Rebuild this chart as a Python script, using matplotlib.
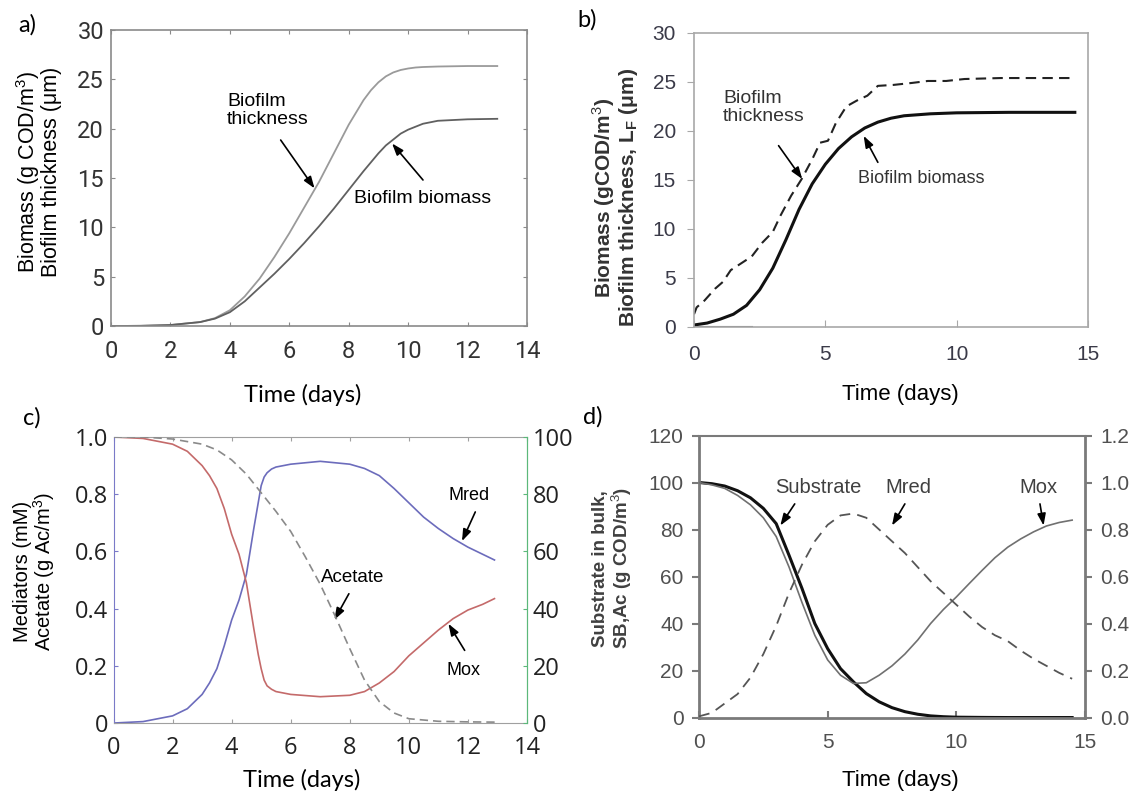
# four-panel biofilm / mediator model comparison

import matplotlib
matplotlib.use("Agg")
import matplotlib.pyplot as plt


# Data

# a) model biofilm growth
a_t = [0, 1, 2, 3, 3.5, 4, 4.5, 5, 5.5, 6, 6.5, 7, 7.5, 8, 8.5, 8.75, 9, 9.25, 9.5, 9.75,
       10, 10.25, 10.5, 11, 12, 13]
a_thick = [0, 0.02, 0.1, 0.4, 0.8, 1.6, 3.0, 4.8, 7.0, 9.4, 12.0, 14.6, 17.5, 20.4, 22.9,
           23.9, 24.7, 25.3, 25.7, 25.95, 26.1, 26.2, 26.25, 26.3, 26.35, 26.35]
a_bio = [0, 0.02, 0.1, 0.4, 0.75, 1.4, 2.5, 3.9, 5.3, 6.8, 8.4, 10.1, 11.9, 13.8, 15.7,
         16.6, 17.5, 18.3, 18.9, 19.5, 19.9, 20.2, 20.5, 20.8, 20.95, 21.0]

# b) reference biofilm growth
b_t = [0, 0.5, 1, 1.5, 2, 2.5, 3, 3.5, 4, 4.5, 5, 5.5, 6, 6.5, 7, 7.5, 8, 9, 10, 12, 14.5]
b_bio = [0.2, 0.4, 0.8, 1.3, 2.2, 3.8, 6.0, 8.9, 12.0, 14.6, 16.6, 18.2, 19.4, 20.3, 20.9,
         21.3, 21.55, 21.75, 21.85, 21.9, 21.9]
b_thk_t = [0, 0.1, 0.4, 0.8, 1.1, 1.4, 1.8, 2.2, 2.6, 3.0, 3.3, 3.7, 4.1, 4.5, 4.8, 5.1,
           5.4, 5.8, 6.2, 6.6, 7.0, 7.6, 8.3, 8.9, 9.6, 10.3, 11.7, 14.5]
b_thk = [1.3, 2.0, 2.7, 3.9, 4.6, 5.8, 6.5, 7.2, 8.6, 9.7, 11.4, 13.4, 15.1, 17.1, 18.8,
         19.0, 20.8, 22.5, 23.1, 23.6, 24.6, 24.7, 24.9, 25.1, 25.1, 25.3, 25.4, 25.4]
b_base_t = [0, 2.2]
b_base = [0, 0]

# c) model mediators and acetate
c_mred_t = [0, 0.02, 1, 2, 2.5, 3, 3.25, 3.5, 3.75, 4, 4.25, 4.5, 4.75, 5.0, 5.1, 5.2,
            5.35, 5.5, 6, 7, 8, 8.5, 9, 9.5, 10, 10.5, 11, 11.5, 12, 12.5, 12.9]
c_mred = [1.0, 0.0, 0.005, 0.025, 0.05, 0.1, 0.14, 0.19, 0.27, 0.36, 0.43, 0.52, 0.68,
          0.83, 0.86, 0.875, 0.888, 0.895, 0.905, 0.915, 0.905, 0.89, 0.865, 0.82, 0.77,
          0.72, 0.68, 0.645, 0.615, 0.59, 0.57]
c_mox_t = [0, 1, 2, 2.5, 3, 3.25, 3.5, 3.75, 4, 4.25, 4.5, 4.75, 4.9, 5.0, 5.1, 5.2, 5.35,
           5.5, 6, 7, 8, 8.5, 9, 9.5, 10, 10.5, 11, 11.5, 12, 12.5, 12.9]
c_mox = [1.0, 0.995, 0.975, 0.95, 0.9, 0.865, 0.82, 0.75, 0.66, 0.59, 0.49, 0.33, 0.24,
         0.19, 0.15, 0.13, 0.118, 0.11, 0.1, 0.092, 0.097, 0.11, 0.14, 0.18, 0.235, 0.28,
         0.325, 0.365, 0.395, 0.415, 0.435]
c_ace_t = [0, 1, 2, 3, 3.5, 4, 4.5, 5, 5.5, 6, 6.5, 7, 7.5, 8, 8.5, 9, 9.5, 10, 11, 12, 13]
c_ace = [100, 100, 99.3, 97.5, 95.5, 92, 87, 80.5, 74, 67, 58, 48.5, 37.5, 26, 15, 7.5,
         3.5, 1.5, 0.6, 0.4, 0.3]

# d) reference substrate and mediators
d_t = [0, 0.5, 1, 1.5, 2, 2.5, 3, 3.5, 4, 4.5, 5, 5.5, 6, 6.5, 7, 7.5, 8, 8.5, 9, 9.5,
       10, 10.5, 11, 11.5, 12, 12.5, 13, 13.5, 14, 14.5]
d_sub = [100, 99.5, 98.5, 96.5, 93.5, 89, 82.5, 69, 55, 40, 29.3, 20.8, 15.2, 10.2, 6.7,
         4.2, 2.5, 1.4, 0.7, 0.35, 0.15, 0.1, 0.05, 0.02, 0, 0, 0, 0, 0, 0]
d_mox = [1.0, 0.99, 0.975, 0.945, 0.905, 0.85, 0.77, 0.64, 0.49, 0.35, 0.245, 0.18, 0.145,
         0.148, 0.18, 0.22, 0.27, 0.33, 0.40, 0.46, 0.513, 0.57, 0.626, 0.68, 0.725, 0.76,
         0.79, 0.815, 0.83, 0.84]
d_mred = [0.005, 0.02, 0.06, 0.10, 0.17, 0.27, 0.39, 0.53, 0.65, 0.75, 0.82, 0.86, 0.868,
          0.85, 0.80, 0.75, 0.70, 0.64, 0.58, 0.53, 0.48, 0.43, 0.385, 0.35, 0.325, 0.285,
          0.25, 0.22, 0.19, 0.165]


# Fonts

ARIAL = ["Liberation Sans", "DejaVu Sans"]
NARROW = ["Roboto", "DejaVu Sans"]
CALIBRI = ["Lato", "DejaVu Sans"]
OPEN = ["Open Sans", "DejaVu Sans"]

plt.rcParams["font.family"] = ARIAL
plt.rcParams["mathtext.fontset"] = "custom"
plt.rcParams["mathtext.rm"] = "Liberation Sans"
plt.rcParams["mathtext.bf"] = "Liberation Sans:bold"

fig = plt.figure(figsize=(11.34, 7.94), dpi=100)

ARROW = dict(arrowstyle="-|>,head_length=0.7,head_width=0.25", color="black", lw=1.2,
             shrinkA=0, shrinkB=0)


def arrow(ax, tail, head):
    ax.annotate("", xy=head, xytext=tail, arrowprops=ARROW)


# a)

ax = fig.add_axes([0.0979, 0.5894, 0.3668, 0.3728])
ax.plot(a_t, a_thick, color="#9a9a9a", lw=1.3)
ax.plot(a_t, a_bio, color="#606060", lw=1.3)
ax.set_xlim(0, 14)
ax.set_ylim(0, 30)
ax.set_xticks(range(0, 15, 2))
ax.set_yticks(range(0, 31, 5))
for s in ax.spines.values():
    s.set_color("#8a8a8a")
    s.set_linewidth(1.2)
ax.tick_params(direction="in", top=True, right=True, length=3, color="#8a8a8a",
               labelsize=17, labelcolor="#333333")
ax.tick_params(axis="x", pad=10)
ax.tick_params(axis="y", pad=5)
for lab in ax.get_xticklabels() + ax.get_yticklabels():
    lab.set_family(NARROW)
ax.set_xlabel("Time (days)", family=CALIBRI, fontsize=17)
ax.xaxis.set_label_coords(0.46, -0.233)
ax.xaxis.label.set_va("center")
ax.set_ylabel("Biomass (g COD/m$^3$)\nBiofilm thickness (μm)", fontsize=15.5, linespacing=0.95)
ax.yaxis.set_label_coords(-0.175, 0.52)
ax.yaxis.label.set_va("center")
ax.text(3.9, 23.6, "Biofilm\nthickness", fontsize=14, va="top", ha="left", linespacing=1.1)
arrow(ax, (5.71, 18.85), (6.85, 13.95))
ax.text(8.18, 12.94, "Biofilm biomass", fontsize=14, va="center", ha="left")
arrow(ax, (10.5, 14.8), (9.46, 18.5))
fig.text(27 / 1134, 1 - 25 / 794, "a)", family=CALIBRI, fontsize=17, ha="center", va="center")


# b)

ax = fig.add_axes([0.612, 0.5882, 0.3474, 0.3703])
ax.plot(b_base_t, b_base, color="#707070", lw=1.5)
ax.plot(b_thk_t, b_thk, color="#222222", lw=1.5, ls=(0, (5, 3)))
ax.plot(b_t, b_bio, color="#111111", lw=2.2)
ax.set_xlim(0, 15)
ax.set_ylim(0, 30)
ax.set_xticks([0, 5, 10, 15])
ax.set_yticks(range(0, 31, 5))
for s in ax.spines.values():
    s.set_color("#a8a8a8")
    s.set_linewidth(1.2)
ax.tick_params(axis="x", direction="in", length=5, color="#a8a8a8", pad=13)
ax.tick_params(axis="y", direction="out", length=5, color="#a8a8a8", pad=8)
ax.tick_params(labelsize=15, labelcolor="#3a3a48")
ax.set_xlabel("Time (days)", fontsize=16)
ax.xaxis.set_label_coords(0.523, -0.231)
ax.xaxis.label.set_va("center")
ax.set_ylabel("Biomass (gCOD/m$^3$)\nBiofilm thickness, L$_\\mathbf{F}$ (μm)", fontsize=15,
              fontweight="bold", color="#333333", linespacing=1.0)
ax.yaxis.set_label_coords(-0.2, 0.44)
ax.yaxis.label.set_va("center")
ax.text(1.1, 24.2, "Biofilm\nthickness", fontsize=14, va="top", ha="left",
        color="#333333", linespacing=1.1)
arrow(ax, (3.22, 18.5), (4.12, 15.1))
ax.text(6.25, 15.1, "Biofilm biomass", fontsize=13, va="center", ha="left", color="#333333")
arrow(ax, (7.0, 16.8), (6.46, 19.5))
fig.text(587 / 1134, 1 - 20 / 794, "b)", family=CALIBRI, fontsize=17, ha="center", va="center")


# c)

ax = fig.add_axes([0.1001, 0.0894, 0.3646, 0.3602])
ax.plot(c_mred_t, c_mred, color="#6c6cbc", lw=1.2)
ax.plot(c_mox_t, c_mox, color="#c46a6a", lw=1.2)
ax.set_xlim(0, 14)
ax.set_ylim(0, 1)
ax.set_xticks(range(0, 15, 2))
ax.set_yticks([0, 0.2, 0.4, 0.6, 0.8, 1.0])
ax.set_yticklabels(["0", "0.2", "0.4", "0.6", "0.8", "1.0"])
ax.spines["top"].set_color("#a0a0a0")
ax.spines["bottom"].set_color("#a0a0a0")
ax.spines["left"].set_color("#7a7ac8")
ax.spines["right"].set_color("#5cb87a")
ax.tick_params(direction="in", top=True, length=3, labelsize=17, labelcolor="#222222")
ax.tick_params(axis="y", color="#7a7ac8", pad=4)
ax.tick_params(axis="x", color="#a0a0a0", pad=9)
for lab in ax.get_xticklabels() + ax.get_yticklabels():
    lab.set_family(OPEN)
ax.set_xlabel("Time (days)", family=CALIBRI, fontsize=17)
ax.xaxis.set_label_coords(0.456, -0.2)
ax.xaxis.label.set_va("center")
ax.set_ylabel("Mediators (mM)\nAcetate (g Ac/m$^3$)", fontsize=14.5, linespacing=0.95)
ax.yaxis.set_label_coords(-0.191, 0.53)
ax.yaxis.label.set_va("center")
ax.text(12.03, 0.796, "Mred", fontsize=13, ha="center", va="center")
arrow(ax, (12.25, 0.738), (11.8, 0.636))
ax.text(8.09, 0.51, "Acetate", fontsize=13.5, ha="center", va="center")
arrow(ax, (7.97, 0.452), (7.48, 0.361))
ax.text(11.86, 0.184, "Mox", fontsize=13, ha="center", va="center")
arrow(ax, (11.89, 0.254), (11.34, 0.347))

ax2 = ax.twinx()
ax2.plot(c_ace_t, c_ace, color="#8a8a8a", lw=1.2, ls=(0, (5, 3)))
ax2.set_ylim(0, 100)
ax2.set_yticks(range(0, 101, 20))
for s in ax2.spines.values():
    s.set_visible(False)
ax2.spines["right"].set_visible(True)
ax2.spines["right"].set_color("#5cb87a")
ax2.tick_params(direction="in", length=3, color="#5cb87a", labelsize=17,
                labelcolor="#222222", pad=4)
for lab in ax2.get_yticklabels():
    lab.set_family(OPEN)
fig.text(32 / 1134, 1 - 418 / 794, "c)", family=CALIBRI, fontsize=17, ha="center", va="center")


# d)

ax = fig.add_axes([0.6164, 0.0963, 0.3404, 0.3552])
ax.plot(d_t, d_sub, color="#111111", lw=2.2)
ax.set_xlim(0, 15)
ax.set_ylim(0, 120)
ax.set_xticks([0, 5, 10, 15])
ax.set_yticks(range(0, 121, 20))
for s in ax.spines.values():
    s.set_color("#7a7a7a")
    s.set_linewidth(2.0)
ax.spines["top"].set_linewidth(1.5)
ax.tick_params(axis="x", direction="in", length=5, color="#7a7a7a", width=1.5, pad=11)
ax.tick_params(axis="y", direction="out", length=5, color="#7a7a7a", width=1.5, pad=6)
ax.tick_params(labelsize=15, labelcolor="#505050")
ax.set_xlabel("Time (days)", fontsize=16)
ax.xaxis.set_label_coords(0.521, -0.222)
ax.xaxis.label.set_va("center")
ax.set_ylabel("Substrate in bulk,\nSB,Ac (g COD/m$^3$)", fontsize=13.5, fontweight="bold",
              color="#404040", linespacing=1.05)
ax.yaxis.set_label_coords(-0.223, 0.53)
ax.yaxis.label.set_va("center")

ax2 = ax.twinx()
ax2.plot(d_t, d_mox, color="#707070", lw=1.2)
ax2.plot(d_t, d_mred, color="#555555", lw=1.3, ls=(0, (6, 4)))
ax2.set_ylim(0, 1.2)
ax2.set_yticks([0, 0.2, 0.4, 0.6, 0.8, 1.0, 1.2])
ax2.set_yticklabels(["0.0", "0.2", "0.4", "0.6", "0.8", "1.0", "1.2"])
for s in ax2.spines.values():
    s.set_visible(False)
ax2.tick_params(axis="y", direction="out", length=5, color="#7a7a7a", width=1.5,
                labelsize=15, labelcolor="#505050", pad=6)

ax.text(4.63, 98.0, "Substrate", fontsize=14.5, ha="center", va="center", color="#404040")
arrow(ax, (3.72, 90.9), (3.16, 81.7))
ax.text(8.13, 98.0, "Mred", fontsize=14.5, ha="center", va="center", color="#404040")
arrow(ax, (8.0, 90.9), (7.5, 81.7))
ax.text(13.18, 98.0, "Mox", fontsize=14.5, ha="center", va="center", color="#404040")
arrow(ax, (13.25, 90.9), (13.39, 81.7))
fig.text(593 / 1134, 1 - 417 / 794, "d)", family=CALIBRI, fontsize=17, ha="center", va="center")

fig.savefig("out.png", dpi=100)
